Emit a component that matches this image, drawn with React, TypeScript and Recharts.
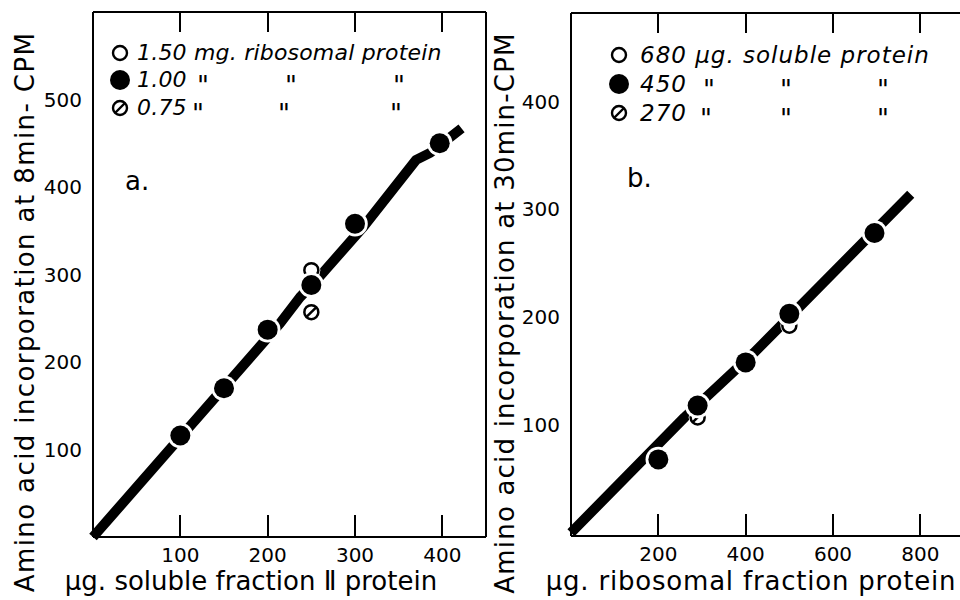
import React from 'react';
import { ScatterChart, Scatter, XAxis, YAxis } from 'recharts';

// ---------------- Panel a data ----------------
const aXTicks = [100, 200, 300, 400];
const aYTicks = [100, 200, 300, 400, 500];
const aFilled = [
  { x: 100, y: 116 },
  { x: 150, y: 170 },
  { x: 200, y: 237 },
  { x: 250, y: 288 },
  { x: 300, y: 358 },
  { x: 397, y: 450 },
];
const aOpen = [{ x: 250, y: 305 }];
const aHatched = [{ x: 250, y: 257 }];
const aFit = [
  { x: 0, y: 0 },
  { x: 100, y: 114 },
  { x: 214, y: 244 },
  { x: 237, y: 274 },
  { x: 258, y: 296 },
  { x: 310, y: 355 },
  { x: 370, y: 431 },
  { x: 386, y: 439 },
  { x: 422, y: 467 },
];
const aAmounts = ['1.50', '1.00', '0.75'];
const aUnit = 'mg. ribosomal protein';
const aXTitle = 'μg. soluble fraction Ⅱ protein';
const aYTitle = 'Amino acid incorporation at 8min- CPM';
const aTag = 'a.';

// ---------------- Panel b data ----------------
const bXTicks = [200, 400, 600, 800];
const bYTicks = [100, 200, 300, 400];
const bFilled = [
  { x: 200, y: 68 },
  { x: 290, y: 118 },
  { x: 400, y: 158 },
  { x: 500, y: 203 },
  { x: 695, y: 278 },
];
const bOpen = [{ x: 500, y: 192 }];
const bHatched = [{ x: 290, y: 107 }];
const bFit = [
  { x: 0, y: 0 },
  { x: 260, y: 107 },
  { x: 419, y: 167 },
  { x: 522, y: 209 },
  { x: 778, y: 314 },
];
const bAmounts = ['680', '450', '270'];
const bUnit = 'μg. soluble protein';
const bXTitle = 'μg. ribosomal fraction protein';
const bYTitle = 'Amino acid incorporation at 30min-CPM';
const bTag = 'b.';

const DITTO = '"';

// ---------------- styles ----------------
const FONT = '"DejaVu Sans", "Liberation Sans", sans-serif';
const LINE = { stroke: '#000', strokeWidth: 2 };
const TICK_TEXT = { fill: '#000', fontSize: 20, fontFamily: FONT };
const CHART_W = 500;
const CHART_H = 600;

const noShape = () => <g />;
const emptyTick = () => <g />;

const filledShape = (p: any) => (
  <g>
    <circle cx={p.cx} cy={p.cy} r={12.8} fill="#fff" />
    <circle cx={p.cx} cy={p.cy} r={10} fill="#000" />
  </g>
);
const openShape = (p: any) => (
  <g>
    <circle cx={p.cx} cy={p.cy} r={9} fill="#fff" />
    <circle cx={p.cx} cy={p.cy} r={7} fill="#fff" stroke="#000" strokeWidth={2.5} />
  </g>
);
const hatchedShape = (p: any) => (
  <g>
    <circle cx={p.cx} cy={p.cy} r={9} fill="#fff" />
    <circle cx={p.cx} cy={p.cy} r={7} fill="#fff" stroke="#000" strokeWidth={2.5} />
    <line x1={p.cx - 4.6} y1={p.cy + 4.6} x2={p.cx + 4.6} y2={p.cy - 4.6} stroke="#000" strokeWidth={2.5} />
  </g>
);

const LegendSymbol = ({ kind }: { kind: number }) => (
  <svg width={24} height={24} style={{ display: 'block' }}>
    {kind === 1 ? (
      <circle cx={12} cy={12} r={10} fill="#000" />
    ) : (
      <circle cx={12} cy={12} r={7} fill="#fff" stroke="#000" strokeWidth={2.4} />
    )}
    {kind === 2 && <line x1={7.5} y1={16.5} x2={16.5} y2={7.5} stroke="#000" strokeWidth={2.4} />}
  </svg>
);

type LegendCfg = {
  amounts: string[];
  unit: string;
  tag: string;
  symX: number;
  rowY: number[];
  textX: number;
  dittoX: number[][];
  fontSize: number;
  ls: number;
  tagX: number;
  tagY: number;
};

const LegendOverlay = ({ cfg }: { cfg: LegendCfg }) => {
  const txt: React.CSSProperties = {
    position: 'absolute',
    transform: 'translateY(-50%)',
    fontStyle: 'italic',
    fontSize: cfg.fontSize,
    letterSpacing: cfg.ls,
    whiteSpace: 'nowrap',
    lineHeight: 1,
    fontFamily: FONT,
    color: '#000',
  };
  return (
    <div style={{ position: 'absolute', left: 0, top: 0, width: 1, height: 1, pointerEvents: 'none' }}>
      {cfg.amounts.map((amt, i) => (
        <React.Fragment key={i}>
          <div style={{ position: 'absolute', left: cfg.symX - 12, top: cfg.rowY[i] - 12 }}>
            <LegendSymbol kind={i} />
          </div>
          <span style={{ ...txt, left: cfg.textX, top: cfg.rowY[i] }}>
            {i === 0 ? `${amt} ${cfg.unit}` : amt}
          </span>
          {i > 0 &&
            cfg.dittoX[i - 1].map((dx, j) => (
              <span key={j} style={{ ...txt, left: dx, top: cfg.rowY[i] + 6, fontSize: 26 }}>
                {DITTO}
              </span>
            ))}
        </React.Fragment>
      ))}
      <span
        style={{
          position: 'absolute',
          left: cfg.tagX,
          top: cfg.tagY,
          transform: 'translateY(-50%)',
          fontSize: 26,
          lineHeight: 1,
          fontFamily: FONT,
          color: '#000',
          whiteSpace: 'nowrap',
        }}
      >
        {cfg.tag}
      </span>
    </div>
  );
};

// inward x tick marks on the bottom and top frame, laid over the chart using the plot geometry
const XTickMarks = ({
  ticks,
  domain,
  left,
  top,
  width,
  height,
  bottomLen,
  topLen,
}: {
  ticks: number[];
  domain: [number, number];
  left: number;
  top: number;
  width: number;
  height: number;
  bottomLen: number;
  topLen: number;
}) => (
  <div style={{ position: 'absolute', left: 0, top: 0, width: 1, height: 1, pointerEvents: 'none' }}>
    {ticks.map((v) => {
      const x = left + ((v - domain[0]) / (domain[1] - domain[0])) * width;
      return (
        <React.Fragment key={v}>
          <div
            style={{ position: 'absolute', left: x - 1, top: top + height - bottomLen, width: 2, height: bottomLen, background: '#000' }}
          />
          <div style={{ position: 'absolute', left: x - 1, top: top, width: 2, height: topLen, background: '#000' }} />
        </React.Fragment>
      );
    })}
  </div>
);

const vTitle = (text: string, x: number, y: number, ls: number) => ({
  value: text,
  content: () => (
    <text
      x={x}
      y={y}
      transform={`rotate(-90 ${x} ${y})`}
      textAnchor="middle"
      dominantBaseline="central"
      fontFamily={FONT}
      fontSize={26}
      letterSpacing={ls}
      fill="#000"
    >
      {text}
    </text>
  ),
});

const hTitle = (text: string, x: number, y: number, ls: number) => ({
  value: text,
  content: () => (
    <text x={x} y={y} textAnchor="middle" fontFamily={FONT} fontSize={26} letterSpacing={ls} fill="#000">
      {text}
    </text>
  ),
});

type PanelProps = {
  xDomain: [number, number];
  yDomain: [number, number];
  xTicks: number[];
  yTicks: number[];
  fit: { x: number; y: number }[];
  open: { x: number; y: number }[];
  hatched: { x: number; y: number }[];
  filled: { x: number; y: number }[];
  margin: { top: number; right: number; bottom: number; left: number };
  yWidth: number;
  xHeight: number;
  yTickLen: number;
  xLabel: any;
  yLabel: any;
  legend: LegendCfg;
};

const Panel = (p: PanelProps) => {
  const plotLeft = p.margin.left + p.yWidth;
  const plotTop = p.margin.top;
  const plotW = CHART_W - plotLeft - p.margin.right;
  const plotH = CHART_H - plotTop - p.margin.bottom - p.xHeight;
  return (
    <div style={{ position: 'relative', width: CHART_W, height: CHART_H }}>
      <ScatterChart width={CHART_W} height={CHART_H} margin={p.margin}>
        <XAxis
          type="number"
          dataKey="x"
          domain={p.xDomain}
          ticks={p.xTicks}
          interval={0}
          height={p.xHeight}
          tickSize={0}
          tickMargin={11}
          tickLine={false}
          axisLine={LINE}
          stroke="#000"
          tick={TICK_TEXT}
          label={p.xLabel}
        />
        <XAxis
          xAxisId="tm"
          type="number"
          domain={p.xDomain}
          ticks={p.xTicks}
          orientation="top"
          mirror
          tick={emptyTick}
          tickLine={false}
          axisLine={LINE}
          stroke="#000"
        />
        <YAxis
          type="number"
          dataKey="y"
          domain={p.yDomain}
          ticks={p.yTicks}
          width={p.yWidth}
          tickSize={0}
          tickMargin={11}
          tickLine={false}
          axisLine={LINE}
          stroke="#000"
          tick={TICK_TEXT}
          label={p.yLabel}
        />
        <YAxis
          yAxisId="lm"
          type="number"
          domain={p.yDomain}
          ticks={p.yTicks}
          orientation="left"
          mirror
          tick={emptyTick}
          tickSize={p.yTickLen}
          tickLine={LINE}
          axisLine={false}
          stroke="#000"
        />
        <YAxis
          yAxisId="rm"
          type="number"
          domain={p.yDomain}
          ticks={p.yTicks}
          orientation="right"
          mirror
          tick={emptyTick}
          tickSize={22}
          tickLine={LINE}
          axisLine={LINE}
          stroke="#000"
        />
        <Scatter
          data={p.fit}
          fill="#000"
          line={{ stroke: '#000', strokeWidth: 10, strokeLinejoin: 'round' }}
          lineType="joint"
          shape={noShape}
          isAnimationActive={false}
        />
        <Scatter data={p.open} shape={openShape} isAnimationActive={false} />
        <Scatter data={p.hatched} shape={hatchedShape} isAnimationActive={false} />
        <Scatter data={p.filled} shape={filledShape} isAnimationActive={false} />
      </ScatterChart>
      <XTickMarks
        ticks={p.xTicks}
        domain={p.xDomain}
        left={plotLeft}
        top={plotTop}
        width={plotW}
        height={plotH}
        bottomLen={22}
        topLen={20}
      />
      <LegendOverlay cfg={p.legend} />
    </div>
  );
};

export default function App() {
  return (
    <div
      style={{
        position: 'absolute',
        left: 0,
        top: 0,
        width: 960,
        height: 600,
        overflow: 'hidden',
        background: '#fff',
      }}
    >
      <div style={{ position: 'absolute', left: 0, top: 0 }}>
        <Panel
          xDomain={[0, 450]}
          yDomain={[0, 600]}
          xTicks={aXTicks}
          yTicks={aYTicks}
          fit={aFit}
          open={aOpen}
          hatched={aHatched}
          filled={aFilled}
          margin={{ top: 12, right: 14, bottom: 0, left: 0 }}
          yWidth={93}
          xHeight={63}
          yTickLen={24}
          xLabel={hTitle(aXTitle, 251, 590, 0)}
          yLabel={vTitle(aYTitle, 25, 312, 1.4)}
          legend={{
            amounts: aAmounts,
            unit: aUnit,
            tag: aTag,
            symX: 120,
            rowY: [53, 80, 108],
            textX: 137,
            dittoX: [
              [197, 285, 393],
              [192, 278, 390],
            ],
            fontSize: 22,
            ls: 0.2,
            tagX: 125,
            tagY: 181,
          }}
        />
      </div>
      <div style={{ position: 'absolute', left: 480, top: 0 }}>
        <Panel
          xDomain={[0, 900]}
          yDomain={[-3, 482]}
          xTicks={bXTicks}
          yTicks={bYTicks}
          fit={bFit}
          open={bOpen}
          hatched={bHatched}
          filled={bFilled}
          margin={{ top: 13, right: 16, bottom: 0, left: 0 }}
          yWidth={91}
          xHeight={64}
          yTickLen={22}
          xLabel={hTitle(bXTitle, 271, 590, 0.8)}
          yLabel={vTitle(bYTitle, 25, 313, 1.2)}
          legend={{
            amounts: bAmounts,
            unit: bUnit,
            tag: bTag,
            symX: 139,
            rowY: [55, 84, 113],
            textX: 160,
            dittoX: [
              [223, 300, 397],
              [220, 300, 397],
            ],
            fontSize: 23,
            ls: 1,
            tagX: 147,
            tagY: 178,
          }}
        />
      </div>
    </div>
  );
}
